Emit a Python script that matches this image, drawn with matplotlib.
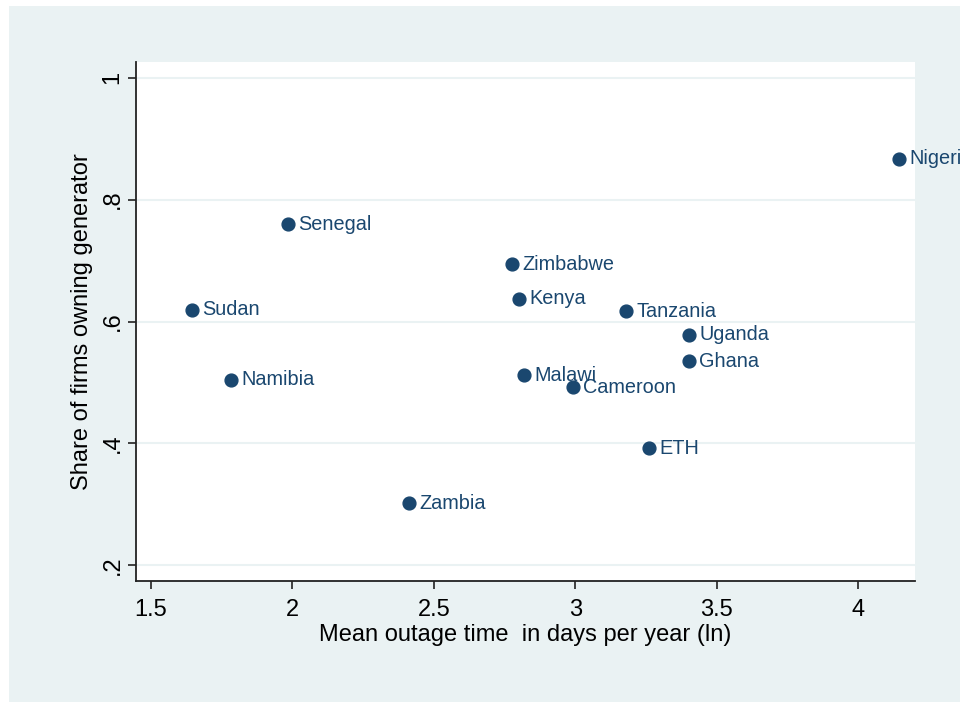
import matplotlib
matplotlib.use("Agg")
import matplotlib.pyplot as plt

plt.rcParams["font.family"] = ["Liberation Sans", "DejaVu Sans"]

countries = ["Nigeria", "Senegal", "Zimbabwe", "Sudan", "Kenya", "Tanzania", "Uganda",
             "Ghana", "Namibia", "Malawi", "Cameroon", "ETH", "Zambia"]
outage = [4.143, 1.984, 2.776, 1.645, 2.800, 3.178, 3.401, 3.401, 1.783, 2.818, 2.991, 3.260, 2.412]
share = [0.867, 0.760, 0.694, 0.619, 0.637, 0.617, 0.578, 0.535, 0.504, 0.512, 0.492, 0.392, 0.302]

xticks = [1.5, 2, 2.5, 3, 3.5, 4]
yticks = [0.2, 0.4, 0.6, 0.8, 1.0]
ylabels = [".2", ".4", ".6", ".8", "1"]

navy = "#1a476f"
panel = "#eaf2f3"

fig = plt.figure(figsize=(9.6, 7.02), dpi=100)
fig.patch.set_facecolor("white")
# outer Stata-like panel
bg = plt.Rectangle((9 / 960, 0 / 702), 1, 696 / 702, transform=fig.transFigure,
                   facecolor=panel, edgecolor="none", zorder=-10)
fig.patches.append(bg)

ax = fig.add_axes([136 / 960, 1 - 581 / 702, (915 - 136) / 960, (581 - 62) / 702])
ax.set_facecolor("white")
ax.set_xlim(1.447, 4.2)
ax.set_ylim(0.174, 1.026)

for y in yticks:
    ax.axhline(y, color=panel, lw=1.5, zorder=0)

ax.scatter(outage, share, s=85, color=navy, zorder=3, clip_on=False)
for c, x, y in zip(countries, outage, share):
    ax.annotate(c, (x, y), xytext=(7.5, 0), textcoords="offset points", va="center",
                ha="left", fontsize=14.3, color=navy, annotation_clip=False)

ax.set_xticks(xticks)
ax.set_xticklabels(["1.5", "2", "2.5", "3", "3.5", "4"], fontsize=17)
ax.set_yticks(yticks)
ax.set_yticklabels(ylabels, fontsize=17, rotation=90, va="center")
ax.tick_params(axis="both", length=6, width=1.2, color="#222222")
ax.tick_params(axis="x", pad=7)
ax.tick_params(axis="y", pad=3)

for s in ["top", "right"]:
    ax.spines[s].set_visible(False)
for s in ["left", "bottom"]:
    ax.spines[s].set_linewidth(1.3)
    ax.spines[s].set_color("#222222")

ax.set_xlabel("Mean outage time  in days per year (ln)", fontsize=17, labelpad=2)
ax.set_ylabel("Share of firms owning generator", fontsize=17, labelpad=6)

fig.savefig("out.png", dpi=100)
